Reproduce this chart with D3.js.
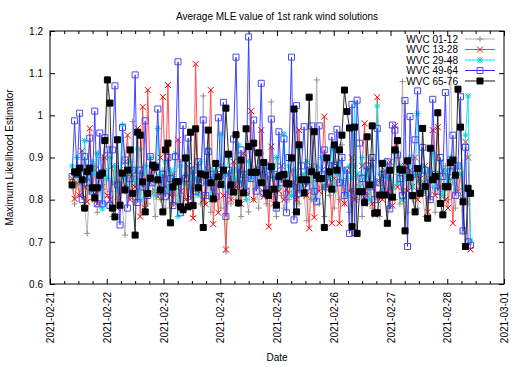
<!DOCTYPE html>
<html>
<head>
<meta charset="utf-8">
<script src="https://cdn.jsdelivr.net/npm/d3@7"></script>
<style>
  body { margin: 0; background: #fff; }
  svg { display: block; font-family: "Liberation Sans", Arial, sans-serif; }
</style>
</head>
<body>
<div id="chart"></div>
<script>
// one sample per pass, passes are 64 minutes apart
const startTime = "2021-02-21T09:20:00Z";
const stepMinutes = 64;

const seriesNames = ["WVC 01-12", "WVC 13-28", "WVC 29-48", "WVC 49-64", "WVC 65-76"];
const yTicks = [0.6, 0.7, 0.8, 0.9, 1.0, 1.1, 1.2];

const wvc01_12 = [
  0.83, 0.79, 0.86, 0.81, 0.84, 0.78, 0.72, 0.85, 0.80, 0.88,
  0.77, 0.83, 0.90, 0.79, 1.086, 0.82, 0.76, 0.87, 0.80, 0.84,
  0.78, 0.716, 0.86, 0.81, 0.985, 0.80, 0.85, 0.92, 0.77, 0.83,
  0.79, 0.88, 0.82, 0.76, 0.85, 0.80, 0.87, 0.78, 0.83, 0.75,
  0.86, 0.81, 0.79, 0.89, 0.77, 0.84, 0.80, 0.86, 0.76, 0.82,
  0.88, 0.79, 1.046, 0.81, 0.84, 0.77, 0.86, 0.80, 0.83, 0.78,
  0.85, 0.676, 0.82, 0.79, 0.87, 0.80, 0.84, 0.76, 0.86, 0.81,
  0.771, 0.88, 0.80, 0.84, 0.78, 0.91, 0.82, 0.79, 0.85, 1.032,
  0.80, 0.76, 0.86, 0.81, 0.78, 0.84, 0.80, 0.89, 0.77, 0.83,
  0.79, 0.86, 0.81, 0.75, 0.84, 0.80, 0.87, 1.084, 0.79, 0.83,
  0.76, 0.85, 0.81, 0.88, 0.78, 0.84, 0.80, 0.93, 0.79, 0.85,
  0.77, 0.82, 0.88, 0.80, 0.84, 0.76, 0.86, 0.79, 0.83, 0.78,
  0.85, 0.80, 0.76, 0.84, 0.81, 0.87, 0.78, 0.83, 0.80, 0.86,
  0.79, 1.08, 0.82, 0.77, 0.85, 0.80, 0.88, 0.78, 0.84, 0.81,
  0.76, 0.86, 0.80, 0.83, 0.77, 0.85, 0.79, 0.82, 0.88, 0.80,
  1.13, 0.84, 0.78, 0.86, 0.81, 0.723, 0.83, 0.79, 0.82
];

const wvc13_28 = [
  0.85, 0.802, 0.84, 0.81, 0.916, 0.83, 0.795, 0.969, 0.82, 0.87,
  0.79, 0.86, 0.83, 0.90, 0.81, 0.80, 0.88, 0.84, 0.78, 0.87,
  0.82, 0.89, 0.953, 0.80, 0.86, 0.83, 0.969, 0.76, 1.02, 0.78,
  1.06, 0.84, 0.87, 0.82, 0.807, 0.90, 1.044, 0.83, 1.072, 0.81,
  0.86, 0.79, 0.942, 0.82, 0.85, 0.80, 0.88, 0.83, 0.756, 1.122,
  0.82, 0.86, 0.80, 0.789, 0.87, 1.06, 0.742, 0.85, 0.769, 0.88,
  0.81, 0.682, 0.86, 0.80, 0.89, 0.83, 0.87, 0.79, 0.91, 0.82,
  0.85, 1.01, 0.80, 0.87, 0.83, 0.965, 0.807, 0.86, 0.736, 0.926,
  0.791, 0.85, 0.82, 0.88, 0.80, 0.825, 0.815, 0.87, 0.84, 0.80,
  0.965, 0.83, 0.86, 0.81, 0.732, 0.88, 0.758, 0.85, 0.82, 0.87,
  0.997, 0.83, 0.86, 0.744, 0.85, 0.88, 0.744, 0.84, 0.791, 0.87,
  0.82, 0.90, 0.80, 0.86, 0.83, 0.88, 0.981, 0.81, 0.85, 0.79,
  0.764, 1.043, 0.84, 0.80, 0.87, 0.82, 0.89, 0.786, 0.975, 0.83,
  0.86, 0.80, 0.88, 0.82, 0.87, 0.831, 0.90, 0.80, 0.85, 0.82,
  0.88, 0.771, 0.86, 0.965, 0.81, 0.972, 0.83, 0.87, 0.80, 0.78,
  0.85, 0.744, 0.88, 0.82, 0.86, 0.80, 0.937, 0.90, 0.682
];

const wvc29_48 = [
  0.88, 0.86, 0.90, 0.84, 0.87, 0.94, 0.85, 0.82, 0.89, 0.86,
  0.91, 0.83, 0.778, 0.87, 0.85, 0.90, 0.84, 0.88, 0.82, 0.86,
  0.977, 0.85, 0.83, 0.89, 0.87, 0.84, 0.92, 0.80, 0.86, 0.88,
  0.83, 0.90, 0.85, 0.81, 0.969, 0.86, 0.84, 0.89, 0.82, 0.87,
  0.85, 0.91, 0.76, 0.88, 0.84, 0.86, 0.90, 0.83, 0.87, 0.85,
  0.81, 0.89, 0.86, 0.84, 0.92, 0.80, 0.87, 0.85, 0.88, 0.956,
  0.83, 0.86, 0.90, 0.82, 0.87, 0.85, 0.93, 0.84, 0.86, 0.80,
  0.89, 0.85, 0.87, 0.83, 0.91, 0.86, 0.84, 0.88, 0.82, 0.87,
  0.85, 0.90, 0.83, 0.86, 0.956, 0.84, 0.88, 0.81, 0.87, 0.85,
  0.92, 0.83, 0.86, 0.89, 0.84, 0.87, 0.80, 0.88, 0.85, 0.90,
  0.83, 0.87, 0.85, 0.92, 0.82, 0.86, 0.89, 0.84, 0.87, 0.81,
  0.88, 0.85, 1.029, 0.86, 0.83, 0.90, 0.85, 0.87, 0.80, 0.88,
  0.84, 1.022, 0.86, 0.82, 0.89, 0.85, 0.87, 0.83, 0.91, 0.84,
  0.88, 0.80, 0.87, 0.85, 0.90, 0.83, 0.86, 1.004, 0.84, 0.88,
  0.82, 0.87, 0.85, 0.91, 0.83, 0.86, 0.89, 0.81, 0.87, 0.84,
  0.90, 0.85, 0.82, 0.88, 0.86, 0.80, 0.953, 1.046, 0.704
];

const wvc49_64 = [
  0.855, 0.987, 0.86, 1.005, 0.80, 0.902, 0.84, 0.946, 0.82, 1.01,
  0.79, 0.958, 0.79, 0.947, 0.918, 0.786, 0.918, 1.07, 0.835, 0.74,
  0.971, 0.894, 0.78, 0.85, 0.87, 1.096, 0.793, 0.87, 0.83, 0.987,
  0.81, 0.902, 0.84, 0.88, 1.015, 0.82, 0.86, 0.807, 0.90, 0.85,
  0.786, 0.902, 1.127, 0.769, 0.976, 0.85, 0.946, 0.80, 0.87, 0.82,
  0.89, 0.84, 0.989, 0.81, 0.914, 0.86, 0.83, 0.807, 0.994, 0.86,
  1.031, 0.76, 0.87, 0.82, 0.944, 1.138, 0.837, 0.918, 0.86, 0.82,
  1.186, 0.85, 0.989, 0.82, 0.87, 1.076, 0.815, 0.88, 0.823, 0.991,
  0.86, 0.78, 0.961, 0.84, 0.944, 0.769, 0.90, 1.138, 0.752, 1.023,
  0.815, 0.88, 0.973, 0.83, 0.87, 0.975, 0.82, 0.795, 0.975, 0.86,
  0.918, 0.83, 0.88, 0.949, 0.882, 0.967, 0.84, 0.90, 0.81, 0.87,
  0.72, 1.026, 0.722, 1.036, 0.934, 0.85, 0.81, 0.88, 0.83, 0.90,
  0.80, 0.969, 0.84, 0.86, 0.82, 0.89, 0.778, 0.977, 0.965, 0.906,
  0.85, 0.81, 1.035, 0.689, 0.997, 0.86, 0.942, 1.058, 0.82, 0.924,
  0.87, 0.839, 0.80, 1.038, 0.86, 0.82, 0.90, 0.855, 1.054, 0.83,
  0.866, 0.953, 0.81, 0.88, 1.044, 0.726, 0.924, 0.70, 0.692
];

const wvc65_76 = [
  0.835, 0.866, 0.863, 0.875, 0.847, 0.78, 0.866, 0.875, 0.828, 0.804,
  0.828, 0.858, 0.863, 0.94, 1.084, 1.029, 0.78, 0.759, 0.942, 0.787,
  0.863, 0.823, 0.87, 0.918, 0.815, 0.716, 0.96, 0.953, 0.842, 0.771,
  0.815, 0.851, 0.882, 0.877, 0.847, 0.823, 0.771, 0.918, 0.934, 0.745,
  0.83, 0.842, 0.843, 0.783, 0.776, 0.899, 0.783, 0.96, 0.786, 0.968,
  0.828, 0.861, 0.734, 0.858, 0.965, 0.84, 0.802, 0.886, 0.854, 0.836,
  0.87, 1.017, 0.908, 0.835, 0.818, 0.954, 0.792, 0.894, 0.816, 0.968,
  0.926, 0.865, 0.934, 0.865, 0.911, 0.84, 0.888, 0.816, 0.81, 0.878,
  0.825, 0.787, 0.855, 0.858, 0.86, 0.839, 0.837, 0.899, 1.015, 0.771,
  0.93, 0.847, 0.816, 0.847, 1.043, 0.866, 0.961, 0.858, 0.85, 0.85,
  0.734, 0.899, 0.866, 0.825, 0.93, 0.87, 0.918, 0.953, 1.06, 1.009,
  0.97, 0.736, 0.972, 0.72, 0.819, 0.819, 0.793, 0.949, 0.835, 0.975,
  0.768, 0.769, 0.811, 0.886, 0.811, 0.744, 0.87, 0.806, 0.918, 0.94,
  0.872, 0.87, 0.726, 0.892, 0.853, 0.81, 0.771, 0.874, 0.815, 0.969,
  0.831, 0.756, 0.922, 0.847, 0.855, 1.006, 0.791, 0.764, 0.831, 0.831,
  0.888, 0.894, 0.858, 1.062, 0.972, 0.795, 0.689, 0.827, 0.815
];

const seriesValues = [wvc01_12, wvc13_28, wvc29_48, wvc49_64, wvc65_76];

// gnuplot-ish styles: line colour, marker colour, marker type
const styles = [
  {line: "#b0b0b0", mark: "#909090", type: "plus"},
  {line: "#ff4040", mark: "#ff0000", type: "cross"},
  {line: "#00e8e8", mark: "#00d8d8", type: "star"},
  {line: "#3030ff", mark: "#4848ff", type: "box"},
  {line: "#181818", mark: "#000000", type: "fbox"}
];

const W = 525, H = 367;
const plot = {left: 50, right: 504, top: 31, bottom: 284};

const t0 = new Date(startTime);
const timeAt = (i) => new Date(t0.getTime() + i * stepMinutes * 60000);

const x = d3.scaleUtc()
    .domain([new Date(Date.UTC(2021, 1, 21)), new Date(Date.UTC(2021, 2, 1))])
    .range([plot.left, plot.right]);
const y = d3.scaleLinear()
    .domain([0.6, 1.2])
    .range([plot.bottom, plot.top]);

const svg = d3.select("#chart").append("svg")
    .attr("width", W)
    .attr("height", H)
    .attr("viewBox", [0, 0, W, H]);

const days = x.ticks(d3.utcDay.every(1));
const minors = x.ticks(d3.utcHour.every(6)).filter(d => d.getUTCHours() !== 0);

// clip data to the plot box
svg.append("clipPath").attr("id", "clip")
  .append("rect")
    .attr("x", plot.left).attr("y", plot.top)
    .attr("width", plot.right - plot.left).attr("height", plot.bottom - plot.top);

function shape(type, s) {
  if (type === "plus") return `M${-s},0H${s}M0,${-s}V${s}`;
  if (type === "cross") return `M${-s},${-s}L${s},${s}M${-s},${s}L${s},${-s}`;
  if (type === "star") return `M${-s},0H${s}M0,${-s}V${s}M${-s*0.75},${-s*0.75}L${s*0.75},${s*0.75}M${-s*0.75},${s*0.75}L${s*0.75},${-s*0.75}`;
  return `M${-s},${-s}H${s}V${s}H${-s}Z`;
}

function drawMarks(sel, st) {
  sel.attr("d", shape(st.type, 3))
    .attr("fill", st.type === "fbox" ? st.mark : "none")
    .attr("stroke", st.mark)
    .attr("stroke-width", 1);
}

const line = d3.line()
    .x(d => x(d.t))
    .y(d => y(d.v));

const dataG = svg.append("g").attr("clip-path", "url(#clip)");

seriesValues.forEach((vals, k) => {
  const st = styles[k];
  const pts = vals.map((v, i) => ({t: timeAt(i), v: v}));
  const g = dataG.append("g").attr("class", "series");

  g.append("path")
      .datum(pts)
      .attr("fill", "none")
      .attr("stroke", st.line)
      .attr("stroke-width", 0.9)
      .attr("d", line);

  g.selectAll("path.pt")
    .data(pts)
    .join("path")
      .attr("class", "pt")
      .attr("transform", d => `translate(${x(d.t)},${y(d.v)})`)
      .call(drawMarks, st);
});

// ****************** axes ***************************

const axisG = svg.append("g").attr("font-size", 10);

const bottom = axisG.append("g")
    .attr("transform", `translate(0,${plot.bottom})`)
    .call(d3.axisBottom(x).tickValues(days).tickSize(-5).tickFormat(d3.utcFormat("%Y-%m-%d")));
bottom.selectAll("text")
    .attr("y", 0)
    .attr("x", -8)
    .attr("dy", "0.35em")
    .attr("transform", "rotate(-90)")
    .style("text-anchor", "end");

axisG.append("g")
    .attr("transform", `translate(0,${plot.bottom})`)
    .call(d3.axisBottom(x).tickValues(minors).tickSize(-3).tickFormat(""));

axisG.append("g")
    .attr("transform", `translate(0,${plot.top})`)
    .call(d3.axisTop(x).tickValues(days).tickSize(-5).tickFormat(""));
axisG.append("g")
    .attr("transform", `translate(0,${plot.top})`)
    .call(d3.axisTop(x).tickValues(minors).tickSize(-3).tickFormat(""));

axisG.append("g")
    .attr("transform", `translate(${plot.left},0)`)
    .call(d3.axisLeft(y).tickValues(yTicks).tickSize(-5).tickPadding(7).tickFormat(d3.format("")));

axisG.append("g")
    .attr("transform", `translate(${plot.right},0)`)
    .call(d3.axisRight(y).tickValues(yTicks).tickSize(-5).tickFormat(""));

axisG.selectAll(".domain").remove();
axisG.selectAll(".tick line").attr("stroke", "#000");
axisG.selectAll(".tick text").attr("fill", "#000").attr("font-family", "Liberation Sans, Arial, sans-serif");

svg.append("rect")
    .attr("x", plot.left).attr("y", plot.top)
    .attr("width", plot.right - plot.left).attr("height", plot.bottom - plot.top)
    .attr("fill", "none")
    .attr("stroke", "#000")
    .attr("stroke-width", 1);

// titles
svg.append("text")
    .attr("x", (plot.left + plot.right) / 2)
    .attr("y", 20)
    .attr("text-anchor", "middle")
    .attr("font-size", 10)
    .text("Average MLE value of 1st rank wind solutions");

svg.append("text")
    .attr("x", (plot.left + plot.right) / 2)
    .attr("y", 361)
    .attr("text-anchor", "middle")
    .attr("font-size", 10)
    .text("Date");

svg.append("text")
    .attr("transform", `translate(13,${(plot.top + plot.bottom) / 2}) rotate(-90)`)
    .attr("text-anchor", "middle")
    .attr("font-size", 10)
    .text("Maximum Likelihood Estimator");

// legend
const legend = svg.append("g").attr("font-size", 10);
seriesNames.forEach((name, k) => {
  const st = styles[k];
  const ly = 39 + k * 10.5;
  legend.append("text")
      .attr("x", 458)
      .attr("y", ly)
      .attr("dy", "0.35em")
      .attr("text-anchor", "end")
      .text(name);
  legend.append("line")
      .attr("x1", 465).attr("x2", 495)
      .attr("y1", ly).attr("y2", ly)
      .attr("stroke", st.line)
      .attr("stroke-width", 1);
  legend.append("path")
      .attr("transform", `translate(480,${ly})`)
      .call(drawMarks, st);
});
</script>
</body>
</html>
